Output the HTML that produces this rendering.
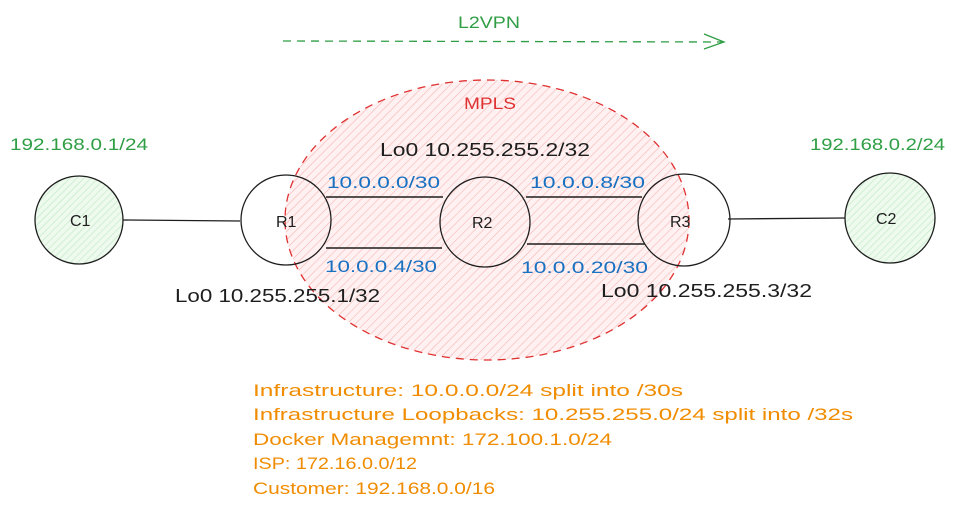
<!DOCTYPE html>
<html><head><meta charset="utf-8"><style>
html,body{margin:0;padding:0;background:#fff;}
svg{display:block;}
text{font-family:"Liberation Sans",sans-serif;}
</style></head><body>
<svg width="968" height="513" viewBox="0 0 968 513" xmlns="http://www.w3.org/2000/svg">
<defs>
<pattern id="h" width="6" height="6" patternUnits="userSpaceOnUse" patternTransform="rotate(45)">
<rect width="6" height="6" fill="#fff1f1"/>
<line x1="0" y1="0" x2="0" y2="6" stroke="#f5b5b5" stroke-width="1.2"/>
</pattern>
<pattern id="g" width="5" height="5" patternUnits="userSpaceOnUse" patternTransform="rotate(45)">
<rect width="5" height="5" fill="#eefaee"/>
<line x1="0" y1="0" x2="0" y2="5" stroke="#bfe8c4" stroke-width="1.2"/>
</pattern>
</defs>
<rect width="968" height="513" fill="#fff"/>
<text x="458" y="28" fill="#2f9e44" font-size="17" textLength="62" lengthAdjust="spacingAndGlyphs">L2VPN</text>
<line x1="283" y1="41" x2="722" y2="42" stroke="#2f9e44" stroke-width="1.3" stroke-dasharray="8 6"/>
<path d="M704 34 L724 42 L704 49" fill="none" stroke="#2f9e44" stroke-width="1.3"/>
<ellipse cx="487" cy="220" rx="202" ry="140" fill="url(#h)" stroke="#e03131" stroke-width="1.3" stroke-dasharray="8 6"/>
<text x="464" y="109" fill="#e03131" font-size="17" textLength="52" lengthAdjust="spacingAndGlyphs">MPLS</text>
<line x1="123" y1="220" x2="240" y2="221" stroke="#1e1e1e" stroke-width="1.3"/>
<line x1="728" y1="219" x2="845" y2="218" stroke="#1e1e1e" stroke-width="1.3"/>
<line x1="326" y1="197" x2="443" y2="197" stroke="#1e1e1e" stroke-width="1.5"/>
<line x1="326" y1="248" x2="442" y2="248" stroke="#1e1e1e" stroke-width="1.5"/>
<line x1="526" y1="197" x2="642" y2="197" stroke="#1e1e1e" stroke-width="1.5"/>
<line x1="527" y1="244" x2="645" y2="244" stroke="#1e1e1e" stroke-width="1.5"/>
<circle cx="79" cy="220" r="44" fill="url(#g)" stroke="#1e1e1e" stroke-width="1.3"/>
<circle cx="890" cy="218" r="45" fill="url(#g)" stroke="#1e1e1e" stroke-width="1.3"/>
<circle cx="286" cy="220" r="45" fill="none" stroke="#1e1e1e" stroke-width="1.3"/>
<circle cx="485" cy="222" r="45" fill="none" stroke="#1e1e1e" stroke-width="1.3"/>
<circle cx="684" cy="220" r="46" fill="none" stroke="#1e1e1e" stroke-width="1.3"/>
<text x="70" y="226" font-size="16" fill="#1e1e1e">C1</text>
<text x="876" y="224" font-size="16" fill="#1e1e1e">C2</text>
<text x="276" y="227" font-size="16" fill="#1e1e1e">R1</text>
<text x="472" y="228" font-size="16" fill="#1e1e1e">R2</text>
<text x="670" y="227" font-size="16" fill="#1e1e1e">R3</text>
<text x="10" y="150" fill="#2f9e44" font-size="17" textLength="138" lengthAdjust="spacingAndGlyphs">192.168.0.1/24</text>
<text x="810" y="150" fill="#2f9e44" font-size="17" textLength="135" lengthAdjust="spacingAndGlyphs">192.168.0.2/24</text>
<text x="380" y="156" fill="#1e1e1e" font-size="18" textLength="210" lengthAdjust="spacingAndGlyphs">Lo0 10.255.255.2/32</text>
<text x="175" y="302" fill="#1e1e1e" font-size="18" textLength="205" lengthAdjust="spacingAndGlyphs">Lo0 10.255.255.1/32</text>
<text x="601" y="297" fill="#1e1e1e" font-size="18" textLength="211" lengthAdjust="spacingAndGlyphs">Lo0 10.255.255.3/32</text>
<text x="327" y="188" fill="#1971c2" font-size="17" textLength="113" lengthAdjust="spacingAndGlyphs">10.0.0.0/30</text>
<text x="530" y="188" fill="#1971c2" font-size="17" textLength="115" lengthAdjust="spacingAndGlyphs">10.0.0.8/30</text>
<text x="325" y="272" fill="#1971c2" font-size="17" textLength="112" lengthAdjust="spacingAndGlyphs">10.0.0.4/30</text>
<text x="521" y="273" fill="#1971c2" font-size="17" textLength="127" lengthAdjust="spacingAndGlyphs">10.0.0.20/30</text>
<g fill="#f08c00" font-size="17">
<text x="253" y="396" textLength="430" lengthAdjust="spacingAndGlyphs">Infrastructure: 10.0.0.0/24 split into /30s</text>
<text x="253" y="420" textLength="600" lengthAdjust="spacingAndGlyphs">Infrastructure Loopbacks: 10.255.255.0/24 split into /32s</text>
<text x="253" y="445" textLength="359" lengthAdjust="spacingAndGlyphs">Docker Managemnt: 172.100.1.0/24</text>
<text x="253" y="469" textLength="164" lengthAdjust="spacingAndGlyphs">ISP: 172.16.0.0/12</text>
<text x="253" y="494" textLength="242" lengthAdjust="spacingAndGlyphs">Customer: 192.168.0.0/16</text>
</g>
</svg>
</body></html>
